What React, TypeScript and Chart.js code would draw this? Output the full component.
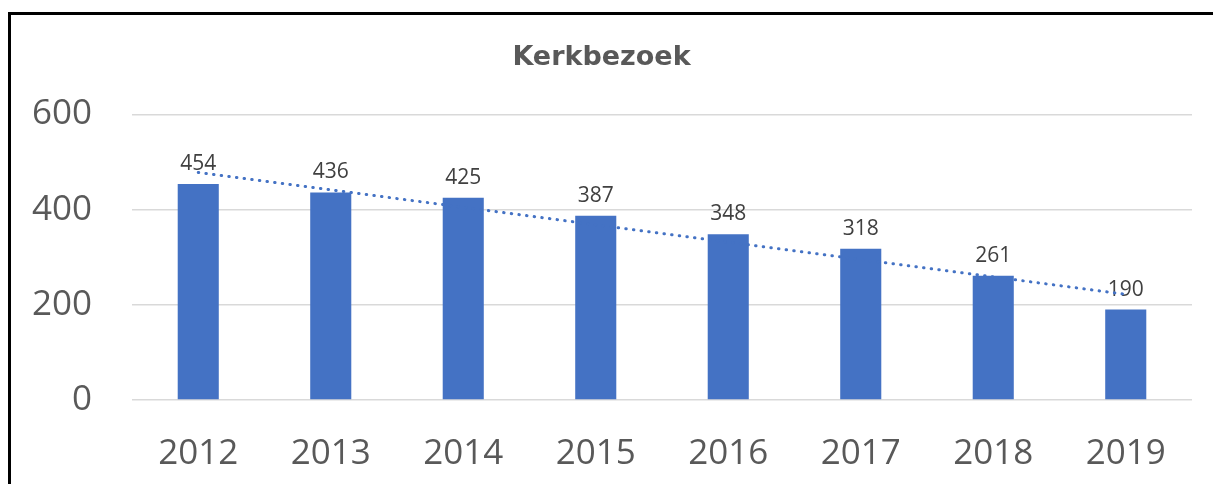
import React, { useEffect, useRef } from 'react';
import { Chart, registerables } from 'chart.js';

Chart.register(...registerables);

const years: string[] = ['2012', '2013', '2014', '2015', '2016', '2017', '2018', '2019'];
const visitors: number[] = [454, 436, 425, 387, 348, 318, 261, 190];
// dotted trendline endpoints
const trendYears: string[] = ['2012', '2019'];
const trendValues: number[] = [478, 222];
const yMin = 0;
const yMax = 600;
const yStep = 200;
const titleText = 'Kerkbezoek';

const BLUE = '#4472C4';

const valueLabels = {
  id: 'valueLabels',
  beforeDatasetsDraw(chart: any) {
    const meta = chart.getDatasetMeta(1);
    const ctx = chart.ctx;
    ctx.save();
    ctx.font = '21px "Open Sans"';
    ctx.fillStyle = '#404040';
    ctx.textAlign = 'center';
    ctx.textBaseline = 'alphabetic';
    meta.data.forEach((el: any, i: number) => {
      ctx.fillText(String(visitors[i]), el.x, el.y - 14);
    });
    ctx.restore();
  },
};

export default function App() {
  const ref = useRef<HTMLCanvasElement | null>(null);

  useEffect(() => {
    if (!ref.current) return;
    const chart = new Chart(ref.current, {
      type: 'bar',
      data: {
        labels: years,
        datasets: [
          {
            type: 'line',
            data: trendYears.map((x, i) => ({ x, y: trendValues[i] })) as any,
            borderColor: BLUE,
            borderWidth: 3,
            borderDash: [0.5, 7.2],
            borderCapStyle: 'round',
            pointRadius: 0,
            fill: false,
            order: 0,
          } as any,
          {
            type: 'bar',
            data: visitors,
            backgroundColor: BLUE,
            barPercentage: 0.31,
            categoryPercentage: 1,
            order: 1,
          } as any,
        ],
      },
      options: {
        animation: false,
        responsive: false,
        layout: { padding: { left: 0, right: 21, top: 0, bottom: 0 } },
        plugins: {
          legend: { display: false },
          tooltip: { enabled: false },
          title: {
            display: true,
            text: titleText,
            color: '#595959',
            font: { family: '"DejaVu Sans"', size: 27, weight: 'bold' },
            padding: { top: 27, bottom: 40 },
          },
        },
        scales: {
          x: {
            grid: { display: false },
            border: { display: false },
            ticks: {
              color: '#595959',
              font: { family: '"Open Sans"', size: 35 },
              padding: 25,
            },
            afterFit: (s: any) => {
              s.height = 84;
            },
          },
          y: {
            min: yMin,
            max: yMax,
            ticks: {
              stepSize: yStep,
              color: '#595959',
              font: { family: '"Open Sans"', size: 35 },
              padding: 40,
            },
            grid: { color: '#d9d9d9', lineWidth: 1.5, drawTicks: false },
            border: { display: false },
            afterFit: (s: any) => {
              s.width = 121;
            },
          },
        },
      },
      plugins: [valueLabels],
    });
    return () => chart.destroy();
  }, []);

  return (
    <div
      style={{
        position: 'fixed',
        left: 8,
        top: 12,
        width: 1240,
        height: 520,
        border: '3px solid #000',
        boxSizing: 'border-box',
        background: '#fff',
      }}
    >
      <canvas ref={ref} width={1202} height={469} style={{ position: 'absolute', left: 0, top: 0 }} />
    </div>
  );
}
